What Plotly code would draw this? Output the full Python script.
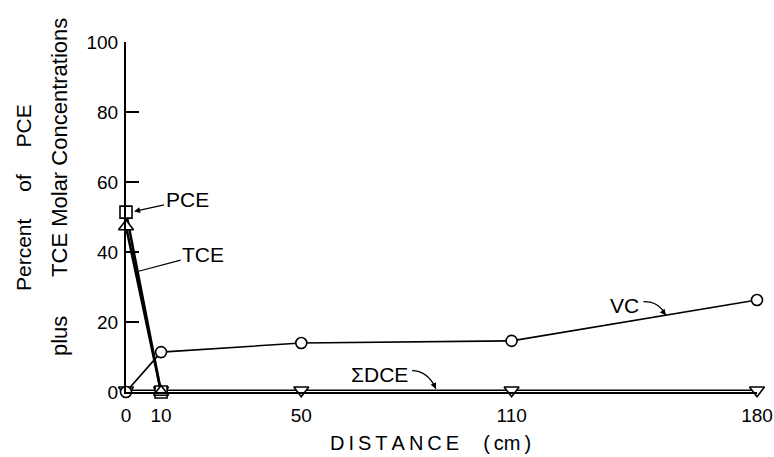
import plotly.graph_objects as go

# ---- data ----
x_pce = [0, 10]
y_pce = [51.4, 0]
x_tce = [0, 10]
y_tce = [47.3, 0]
x_vc = [0, 10, 50, 110, 180]
y_vc = [0, 11.4, 14.0, 14.6, 26.3]
x_dce = [0, 10, 50, 110, 180]
y_dce = [0.5, 0.5, 0.5, 0.5, 0.5]
x_ticks = [0, 10, 50, 110, 180]
y_ticks = [0, 20, 40, 60, 80, 100]

FONT = "Liberation Sans"

W, H = 774, 457
L, T = 126, 42
PW, PH = 631, 350

fig = go.Figure()

def add(x, y, sym, lw, msize):
    fig.add_trace(go.Scatter(
        x=x, y=y, mode="lines+markers", cliponaxis=False, showlegend=False,
        line=dict(color="black", width=lw),
        marker=dict(symbol=sym, size=msize, color="white",
                    line=dict(color="black", width=1.6)),
    ))

add(x_dce, y_dce, "triangle-down", 1.6, 13)
add(x_pce, y_pce, "square", 2.5, 12)
add(x_tce, y_tce, "triangle-up", 2.5, 13)
add(x_vc, y_vc, "circle", 1.6, 11)

tf = dict(size=21, family=FONT, color="black")
ann = []
ann.append(dict(x=2.3, y=51.6, ax=17.4, ay=54.9, axref="x", ayref="y",
                text="PCE", showarrow=True, arrowhead=2, arrowsize=1, arrowcolor="black",
                arrowwidth=1.2, standoff=0, font=tf))
ann.append(dict(x=3.6, y=34.5, ax=22.0, ay=39.4, axref="x", ayref="y",
                text="TCE", showarrow=True, arrowhead=0, arrowcolor="black",
                arrowwidth=1.2, font=tf))
ann.append(dict(x=142.3, y=24.6, text="VC", showarrow=False, font=tf))
ann.append(dict(x=154.0, y=21.9, ax=152.7, ay=23.6, axref="x", ayref="y", arrowcolor="black",
                text="", showarrow=True, arrowhead=2, arrowsize=1, arrowwidth=1.2, standoff=0))
ann.append(dict(x=72.4, y=5.1, text="ΣDCE", showarrow=False, font=tf))
ann.append(dict(x=88.4, y=0.9, ax=87.6, ay=2.6, axref="x", ayref="y", arrowcolor="black",
                text="", showarrow=True, arrowhead=2, arrowsize=1, arrowwidth=1.2, standoff=0))

def px(xp):
    return (xp - L) / PW

def py(yp):
    return (T + PH - yp) / PH

ann.append(dict(xref="paper", yref="paper", x=px(430), y=py(443), yanchor="middle",
                text="D\u2009I\u2009S\u2009T\u2009A\u2009N\u2009C\u2009E\u2003\u2009(\u2009cm\u2009)",
                showarrow=False, font=dict(size=20, family=FONT, color="black")))
ann.append(dict(xref="paper", yref="paper", x=px(23), y=py(198),
                xanchor="center", yanchor="middle", textangle=-90,
                text="Percent\u2003 of\u2003 PCE", showarrow=False, font=tf))
ann.append(dict(xref="paper", yref="paper", x=px(59), y=py(187),
                xanchor="center", yanchor="middle", textangle=-90,
                text="plus\u2003\u2002 TCE Molar Concentrations", showarrow=False,
                font=dict(size=22, family=FONT, color="black")))

shapes = [
    dict(type="path", xref="x", yref="y",
         path="M 147.6,25.8 Q 152.0,25.9 154.0,21.9",
         line=dict(color="black", width=1.2)),
    dict(type="path", xref="x", yref="y",
         path="M 81.6,6.1 Q 86.2,6.0 88.4,0.9",
         line=dict(color="black", width=1.2)),
]

fig.update_layout(
    width=W, height=H,
    margin=dict(l=L, r=W - L - PW, t=T, b=H - T - PH, autoexpand=False),
    paper_bgcolor="white", plot_bgcolor="white",
    annotations=ann, shapes=shapes,
    font=dict(family=FONT, color="black"),
    xaxis=dict(range=[0, 180], tickvals=x_ticks, ticktext=[str(v) for v in x_ticks],
               showgrid=False, zeroline=False, showline=True, linecolor="black",
               linewidth=1.6, ticks="", tickfont=dict(size=19, family=FONT),
               ticklabelstandoff=5, ticklabeloverflow="allow", automargin=False),
    yaxis=dict(range=[0, 100], tickvals=y_ticks, ticktext=[str(v) for v in y_ticks],
               showgrid=False, zeroline=False, showline=True, linecolor="black",
               linewidth=2, ticks="inside", ticklen=13, tickwidth=2, tickcolor="black",
               tickfont=dict(size=19, family=FONT), ticklabelstandoff=2, automargin=False),
)

fig.write_html("out.html", config={"displayModeBar": False},
               post_script="document.body.style.margin='0';document.body.style.overflow='hidden';")
